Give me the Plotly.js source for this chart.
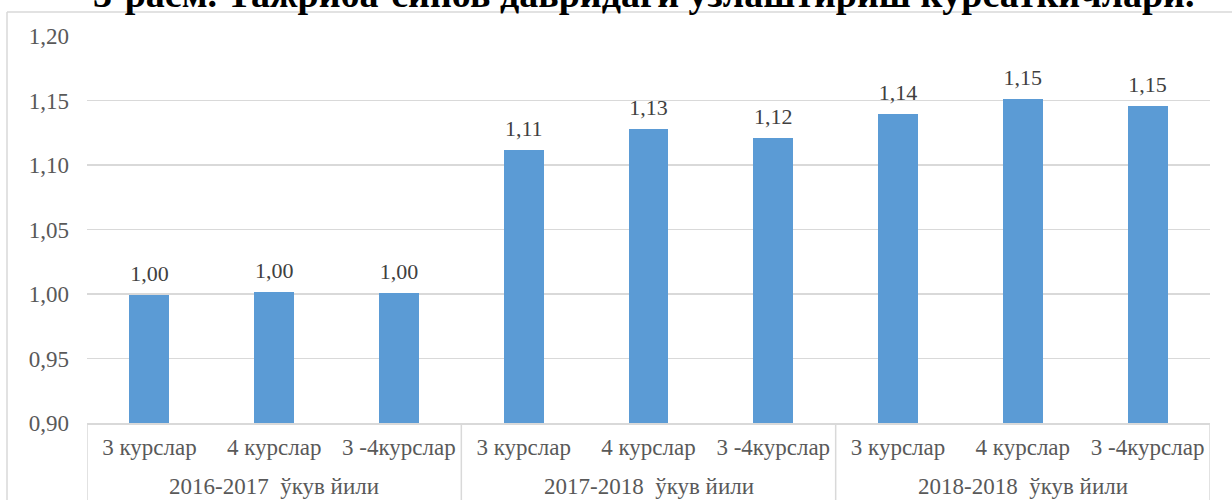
<!DOCTYPE html>
<html>
<head>
<meta charset="utf-8">
<script src="https://cdn.plot.ly/plotly-3.0.1.min.js"></script>
<style>
html,body{margin:0;padding:0;background:#fff;overflow:hidden;}
#chart{width:1232px;height:500px;}
</style>
</head>
<body>
<div id="chart"></div>
<script>
var titleText = "3-расм. Тажриба-синов давридаги ўзлаштириш кўрсаткичлари.";
var years = ["2016-2017  ўкув йили", "2017-2018  ўкув йили", "2018-2018  ўкув йили"];
var courses = ["3 курслар", "4 курслар", "3 -4курслар"];
var values = [0.9992, 1.0019, 1.0008, 1.1119, 1.1281, 1.1206, 1.1399, 1.1508, 1.1456];
var yTicks = [0.90, 0.95, 1.00, 1.05, 1.10, 1.15, 1.20];

var xIdx = [], xText = [];
for (var i = 0; i < years.length; i++) {
  for (var j = 0; j < courses.length; j++) {
    xIdx.push(i * courses.length + j);
    xText.push(courses[j]);
  }
}

var L = 87, R = 22, T = 36, B = 77;
var W = 1232, H = 500;
var pw = W - L - R, ph = H - T - B;
function px2x(p){ return (p - L) / pw; }
function py2y(p){ return (H - B - p) / ph; }

var bars = {
  type: 'bar',
  x: xIdx,
  y: values,
  marker: {color: '#5b9bd5'},
  width: 0.32,
  hoverinfo: 'skip'
};
var labels = {
  type: 'scatter',
  mode: 'markers+text',
  x: xIdx,
  y: values,
  marker: {size: 12, opacity: 0},
  texttemplate: '%{y:.2f}',
  textposition: 'top center',
  cliponaxis: false,
  textfont: {family: 'Liberation Serif', size: 22, color: '#404040'},
  hoverinfo: 'skip'
};

var shapes = [
  {type: 'line', xref: 'paper', yref: 'paper', x0: px2x(7), x1: px2x(1240), y0: py2y(12), y1: py2y(12),
   line: {color: '#d9d9d9', width: 1.5}},
  {type: 'line', xref: 'paper', yref: 'paper', x0: px2x(7), x1: px2x(7), y0: py2y(12), y1: py2y(510),
   line: {color: '#d9d9d9', width: 1.5}}
];
var annotations = [
  {text: '<b>' + titleText + '</b>', xref: 'paper', yref: 'paper', x: px2x(644), y: py2y(17),
   xanchor: 'center', yanchor: 'bottom', showarrow: false,
   font: {family: 'Liberation Serif', size: 38, color: '#000000'}}
];
for (var g = 0; g <= years.length; g++) {
  var xb = g * courses.length - 0.5;
  shapes.push({type: 'line', xref: 'x', yref: 'paper', x0: xb, x1: xb, y0: 0, y1: py2y(505),
    line: {color: '#d9d9d9', width: 1.5}});
}
for (var k = 0; k < years.length; k++) {
  annotations.push({text: years[k], xref: 'x', yref: 'paper', x: k * courses.length + (courses.length - 1) / 2,
    y: py2y(487), xanchor: 'center', yanchor: 'middle', showarrow: false,
    font: {family: 'Liberation Serif', size: 23, color: '#595959'}});
}

var layout = {
  width: W, height: H,
  margin: {l: L, r: R, t: T, b: B, pad: 0},
  separators: ', ',
  paper_bgcolor: '#ffffff',
  plot_bgcolor: '#ffffff',
  showlegend: false,
  bargap: 0,
  font: {family: 'Liberation Serif', color: '#595959'},
  xaxis: {
    range: [-0.5, xIdx.length - 0.5],
    tickvals: xIdx, ticktext: xText,
    showline: true, linecolor: '#d9d9d9', linewidth: 1.5,
    showgrid: false, zeroline: false, ticks: '',
    ticklabelstandoff: 3,
    tickfont: {family: 'Liberation Serif', size: 23, color: '#595959'},
    automargin: false, fixedrange: true
  },
  yaxis: {
    range: [0.9, 1.2],
    tickvals: yTicks,
    tickformat: '.2f',
    showgrid: true, gridcolor: '#d9d9d9', gridwidth: 1.5,
    zeroline: false, showline: false, ticks: '',
    ticklabelstandoff: 17,
    tickfont: {family: 'Liberation Serif', size: 23, color: '#595959'},
    automargin: false
  },
  shapes: shapes,
  annotations: annotations
};

Plotly.newPlot('chart', [bars, labels], layout, {displayModeBar: false, staticPlot: true});
</script>
</body>
</html>
